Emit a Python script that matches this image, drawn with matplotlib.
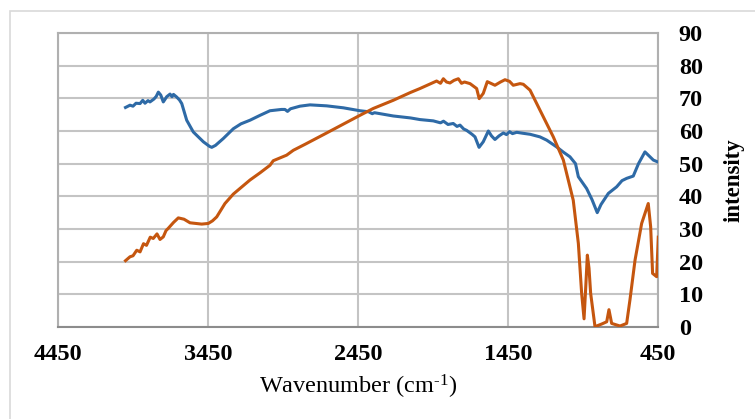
import matplotlib
matplotlib.use("Agg")
import matplotlib.pyplot as plt
from matplotlib.patches import Rectangle

plt.rcParams['font.family'] = ['Liberation Serif', 'DejaVu Serif']
plt.rcParams['mathtext.default'] = 'regular'
plt.rcParams['mathtext.fontset'] = 'custom'
plt.rcParams['mathtext.rm'] = 'Liberation Serif'

# Series 1 (blue)
blue_wn = [4000, 3970, 3950, 3930, 3903, 3885, 3870, 3850, 3837, 3810, 3795, 3781, 3765,
           3748, 3725, 3703, 3690, 3680, 3659, 3640, 3625, 3592, 3548, 3481, 3440, 3425,
           3400, 3348, 3281, 3230, 3170, 3103, 3037, 2960, 2937, 2920, 2900, 2837, 2770,
           2659, 2548, 2437, 2380, 2355, 2340, 2215, 2100, 2037, 1948, 1900, 1880, 1850,
           1815, 1790, 1770, 1745, 1726, 1690, 1670, 1643, 1615, 1581, 1560, 1537, 1510,
           1481, 1460, 1440, 1420, 1392, 1350, 1303, 1237, 1192, 1125, 1080, 1037, 1000,
           981, 926, 890, 855, 830, 781, 726, 690, 659, 615, 580, 537, 481, 450]
blue_val = [67.2, 67.9, 67.6, 68.5, 68.4, 69.4, 68.5, 69.3, 68.9, 69.8, 70.6, 71.9, 71.0,
            68.9, 70.5, 71.3, 70.5, 71.2, 70.4, 69.5, 68.4, 63.3, 59.7, 56.7, 55.3, 55.0,
            55.6, 57.7, 60.7, 62.2, 63.3, 64.8, 66.2, 66.6, 66.6, 66.0, 66.8, 67.6, 68.0,
            67.7, 67.1, 66.2, 65.9, 65.3, 65.6, 64.6, 64.0, 63.5, 63.1, 62.5, 63.0, 62.0,
            62.3, 61.4, 61.8, 60.6, 60.2, 59.0, 58.2, 55.0, 56.7, 60.0, 58.5, 57.4, 58.5,
            59.4, 58.9, 59.8, 59.2, 59.6, 59.3, 59.0, 58.2, 57.2, 55.1, 53.5, 52.1, 50.0,
            46.0, 42.4, 39.0, 35.0, 37.5, 40.9, 42.9, 44.8, 45.5, 46.2, 50.0, 53.6, 51.1, 50.5]

# Series 2 (orange)
orange_wn = [4000, 3970, 3950, 3925, 3903, 3880, 3860, 3835, 3815, 3790, 3770, 3748, 3730,
             3715, 3680, 3648, 3610, 3570, 3492, 3448, 3420, 3392, 3337, 3281, 3170, 3103,
             3037, 3015, 2926, 2881, 2800, 2659, 2437, 2348, 2215, 2100, 2037, 1926, 1900,
             1881, 1860, 1837, 1810, 1781, 1760, 1740, 1703, 1659, 1642, 1615, 1588, 1560,
             1537, 1500, 1470, 1440, 1415, 1370, 1348, 1303, 1237, 1148, 1081, 1037, 1015,
             981, 959, 943, 932, 921, 910, 899, 870, 826, 792, 777, 759, 703, 659, 637, 603,
             559, 515, 499, 486, 459, 448]
orange_val = [20.3, 21.5, 21.8, 23.5, 23.0, 25.5, 25.0, 27.5, 27.1, 28.5, 26.8, 27.6, 29.5,
              30.2, 32.0, 33.4, 33.0, 31.9, 31.5, 31.7, 32.5, 33.7, 37.8, 40.7, 45.0, 47.2,
              49.5, 50.9, 52.6, 54.1, 56.0, 59.4, 64.8, 66.9, 69.4, 71.8, 73.0, 75.3, 74.6,
              76.0, 75.0, 74.7, 75.5, 76.0, 74.6, 75.0, 74.5, 73.0, 69.9, 71.5, 75.1, 74.5,
              74.0, 75.0, 75.7, 75.2, 74.0, 74.5, 74.3, 72.5, 66.4, 58.2, 51.1, 42.9, 38.8,
              25.6, 10.3, 2.5, 12.0, 22.0, 18.0, 10.3, 0.1, 0.9, 1.6, 5.3, 1.1, 0.3, 1.1,
              8.3, 20.5, 31.7, 37.8, 30.7, 16.4, 15.4, 27.5]

x_ticks = [4450, 3450, 2450, 1450, 450]
y_ticks = [0, 10, 20, 30, 40, 50, 60, 70, 80, 90]

fig = plt.figure(figsize=(7.55, 4.19), dpi=100)
fig.patches.append(Rectangle((10/755, -0.1), 1.2, 1.1 - 11/419,
                             transform=fig.transFigure, fill=False,
                             edgecolor='#d9d9d9', linewidth=1.2))
ax = fig.add_axes([58/755, 1 - 327/419, 600/755, 294/419])

ax.plot(blue_wn, blue_val, color='#2e6aa6', linewidth=2.2, zorder=3)
ax.plot(orange_wn, orange_val, color='#c5560f', linewidth=2.2, zorder=3)

ax.set_xlim(4450, 450)
ax.set_ylim(0, 90)
ax.set_xticks(x_ticks)
ax.set_xticklabels([str(t) for t in x_ticks], fontweight='bold', fontsize=17.5)
ax.set_yticks(y_ticks)
ax.set_yticklabels([str(t) for t in y_ticks], fontweight='bold', fontsize=17.5)
ax.yaxis.tick_right()
ax.yaxis.set_label_position('right')
ax.tick_params(axis='both', length=0)
ax.tick_params(axis='x', pad=12)
ax.tick_params(axis='y', pad=15)
ax.grid(True, color='#c4c4c4', linewidth=1.5, zorder=0)
ax.set_axisbelow(True)
for s in ['left', 'right', 'top']:
    ax.spines[s].set_color('#b0b0b0')
    ax.spines[s].set_linewidth(1.5)
ax.spines['bottom'].set_color('#8c8c8c')
ax.spines['bottom'].set_linewidth(1.5)

ax.set_xlabel('Wavenumber (cm$^{\\text{-}1}$)', fontsize=17.5, labelpad=6)
ax.set_ylabel('intensity', fontsize=16.5, fontweight='bold', labelpad=15)

fig.savefig('out.png', dpi=100)
